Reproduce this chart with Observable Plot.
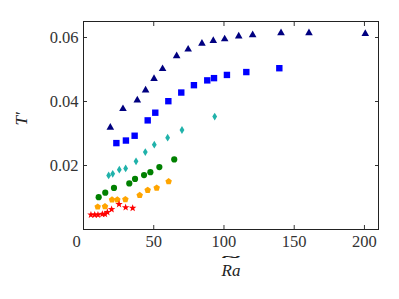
<!DOCTYPE html>
<html>
<head>
<meta charset="utf-8">
<script src="https://cdn.jsdelivr.net/npm/d3@7"></script>
<script src="https://cdn.jsdelivr.net/npm/@observablehq/plot@0.6"></script>
<style>
  html, body { margin: 0; padding: 0; background: #fff; }
  svg text { font-family: "Liberation Serif", "DejaVu Serif", serif; }
</style>
</head>
<body>
<div id="chart"></div>
<script>
// Series: navy triangles
const triX = [19.1, 28.1, 38.3, 44.2, 50.2, 56.3, 66.3, 74.5, 84.3, 92.4, 100.5, 110.5, 120.4, 140.6, 160.5, 200.6];
const triY = [0.0322, 0.0380, 0.0407, 0.0438, 0.0474, 0.0505, 0.0545, 0.0566, 0.0584, 0.0593, 0.0598, 0.0607, 0.0611, 0.0617, 0.0617, 0.0615];
// Series: blue squares
const sqX = [23.4, 30.2, 36.4, 45.7, 51.1, 60.4, 69.6, 78.6, 88.1, 92.9, 102.1, 115.9, 139.4];
const sqY = [0.0270, 0.0278, 0.0293, 0.0341, 0.0365, 0.0401, 0.0428, 0.0451, 0.0466, 0.0473, 0.0483, 0.0492, 0.0504];
// Series: teal thin diamonds
const diX = [17.9, 20.8, 25.5, 30.0, 37.4, 44.0, 50.4, 59.9, 70.1, 93.4];
const diY = [0.0169, 0.0174, 0.0187, 0.0191, 0.0213, 0.0242, 0.0265, 0.0287, 0.0311, 0.0353];
// Series: green circles
const ciX = [10.8, 15.5, 21.7, 32.6, 36.7, 43.1, 47.6, 54.0, 64.6];
const ciY = [0.0101, 0.0115, 0.0130, 0.0144, 0.0158, 0.0170, 0.0179, 0.0195, 0.0219];
// Series: orange pentagons
const peX = [10.1, 15.3, 20.3, 24.1, 29.8, 40.0, 45.7, 52.1, 60.6];
const peY = [0.0071, 0.0072, 0.0093, 0.0093, 0.0094, 0.0107, 0.0123, 0.0130, 0.0150];
// Series: red stars
const stX = [5.3, 8.0, 10.3, 13.4, 15.3, 17.0, 20.0, 25.3, 30.0, 35.0];
const stY = [0.0046, 0.0046, 0.0046, 0.0048, 0.0048, 0.0054, 0.0063, 0.0079, 0.0069, 0.0067];

// Ticks
const xTicks = [0, 50, 100, 150, 200];
const xLabelTicks = [50, 100, 150, 200];
const yTicks = [0.02, 0.04, 0.06];
const xZeroLabel = [0];
const xTitle = "Ra";
const yTitle = "T\u2032";

const FONT = "Liberation Serif";

// Custom marker shapes (matplotlib-like)
const symTriangle = { draw(c) { c.moveTo(0, -3.5); c.lineTo(3.8, 3.2); c.lineTo(-3.8, 3.2); c.closePath(); } };
const symSquare = { draw(c) { c.rect(-3.2, -3.2, 6.4, 6.4); } };
const symThinDiamond = { draw(c) { c.moveTo(0, -3.9); c.lineTo(2.4, 0); c.lineTo(0, 3.9); c.lineTo(-2.4, 0); c.closePath(); } };
const symCircle = { draw(c) { c.moveTo(3.1, 0); c.arc(0, 0, 3.1, 0, 2 * Math.PI); } };
const symPentagon = { draw(c) {
  const r = 3.4;
  for (let k = 0; k < 5; k++) {
    const a = -Math.PI / 2 + k * 2 * Math.PI / 5;
    if (k === 0) c.moveTo(r * Math.cos(a), r * Math.sin(a)); else c.lineTo(r * Math.cos(a), r * Math.sin(a));
  }
  c.closePath();
} };
const symStar = { draw(c) {
  const R = 3.9, r = 1.6;
  for (let k = 0; k < 10; k++) {
    const a = -Math.PI / 2 + k * Math.PI / 5;
    const rr = k % 2 === 0 ? R : r;
    if (k === 0) c.moveTo(rr * Math.cos(a), rr * Math.sin(a)); else c.lineTo(rr * Math.cos(a), rr * Math.sin(a));
  }
  c.closePath();
} };

const pts = (xs, ys) => xs.map((x, i) => ({ x, y: ys[i] }));

const series = [
  { data: pts(triX, triY), color: "#000080", symbol: symTriangle },
  { data: pts(sqX, sqY), color: "#0000ff", symbol: symSquare },
  { data: pts(diX, diY), color: "#20b2aa", symbol: symThinDiamond },
  { data: pts(ciX, ciY), color: "#008000", symbol: symCircle },
  { data: pts(peX, peY), color: "#ffa500", symbol: symPentagon },
  { data: pts(stX, stY), color: "#ff0000", symbol: symStar }
];

const noText = () => "";

const chart = Plot.plot({
  width: 399,
  height: 299,
  marginLeft: 83,
  marginRight: 21,
  marginTop: 21,
  marginBottom: 70,
  style: { fontFamily: FONT, fontSize: "16.5px", color: "#333", background: "#fff" },
  x: { domain: [0, 210] },
  y: { domain: [0, 0.065] },
  marks: [
    // inward ticks on all four sides
    Plot.axisX({ anchor: "bottom", ticks: xTicks, tickSize: -4, tickFormat: noText, label: null, stroke: "#333" }),
    Plot.axisX({ anchor: "top", ticks: xTicks, tickSize: -4, tickFormat: noText, label: null, stroke: "#333" }),
    Plot.axisY({ anchor: "left", ticks: yTicks, tickSize: -4, tickFormat: noText, label: null, stroke: "#333" }),
    Plot.axisY({ anchor: "right", ticks: yTicks, tickSize: -4, tickFormat: noText, label: null, stroke: "#333" }),
    // tick labels
    Plot.axisX({ anchor: "bottom", ticks: xLabelTicks, tickSize: 0, tickPadding: 6, tickFormat: d3.format("d"), label: null, fill: "#333", fontFamily: FONT, fontSize: 16.5 }),
    Plot.axisY({ anchor: "left", ticks: yTicks, tickSize: 0, tickPadding: 5, tickFormat: d3.format(".2f"), label: null, fill: "#333", fontFamily: FONT, fontSize: 16.5 }),
    Plot.text(xZeroLabel, { x: d => d, text: d => String(d), frameAnchor: "bottom", lineAnchor: "top", dy: 6, dx: -7, fill: "#333", fontFamily: FONT, fontSize: 16.5 }),
    // axis titles
    Plot.text([xTitle], { text: d => d, frameAnchor: "bottom", lineAnchor: "top", dy: 34, fontStyle: "italic", fontSize: 17, fill: "#222", fontFamily: FONT }),
    Plot.text(["~"], { text: d => d, frameAnchor: "bottom", lineAnchor: "bottom", dy: 30.5, fontSize: 9, fill: "#222", stroke: "#222", strokeWidth: 0.4, fontFamily: FONT, className: "wide-tilde" }),
    Plot.text([yTitle], { text: d => d, frameAnchor: "left", dx: -62, rotate: -90, fontStyle: "italic", fontSize: 17, fill: "#222", fontFamily: FONT }),
    // data
    ...series.map(s => Plot.dot(s.data, { x: "x", y: "y", symbol: () => s.symbol, fill: s.color, stroke: "none", r: 3 })),
    Plot.frame({ stroke: "#222", strokeWidth: 1 })
  ]
});

// stretch the tilde over "Ra"
d3.select(chart).selectAll(".wide-tilde text")
  .attr("textLength", 18)
  .attr("lengthAdjust", "spacingAndGlyphs");

document.getElementById("chart").appendChild(chart);
</script>
</body>
</html>
